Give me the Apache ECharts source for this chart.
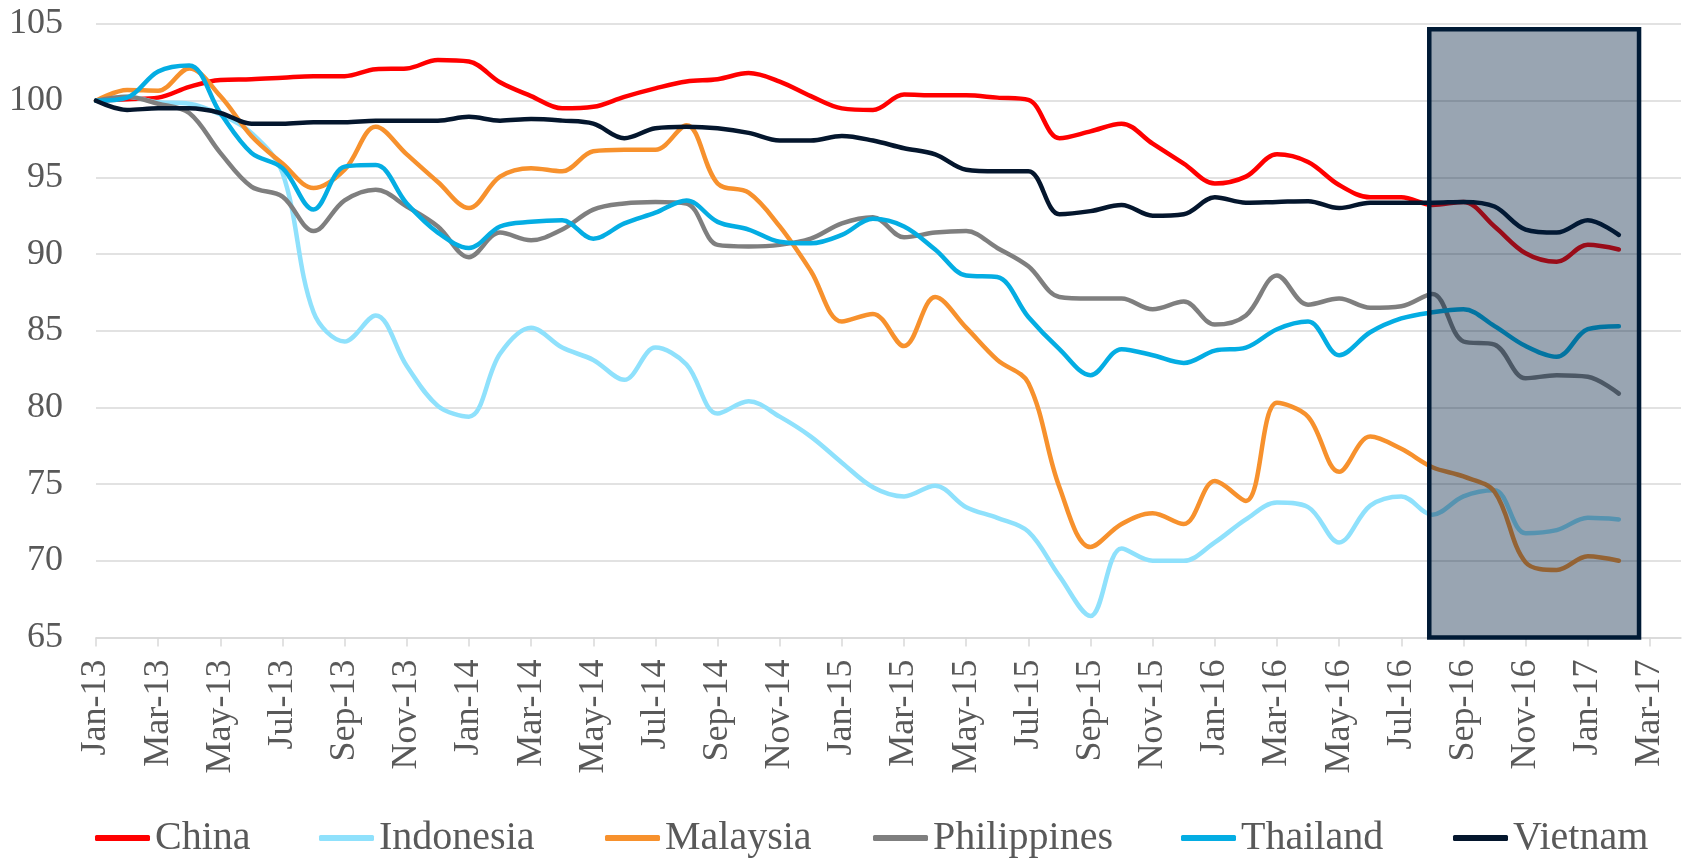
<!DOCTYPE html>
<html>
<head>
	<meta charset="UTF-8">
	<title>Exchange rate index</title>
	<script src="https://cdn.jsdelivr.net/npm/echarts@6.0.0/dist/echarts.min.js"></script>
	<style>
		html, body { margin: 0; padding: 0; background: #fff; }
		#main { width: 1684px; height: 859px; }
	</style>
</head>
<body>
	<div id="main"></div>
	<script>
		// monthly index, Jan-13 = 100, last point Feb-17
		var xTickLabels = ['Jan-13', 'Mar-13', 'May-13', 'Jul-13', 'Sep-13', 'Nov-13',
			'Jan-14', 'Mar-14', 'May-14', 'Jul-14', 'Sep-14', 'Nov-14',
			'Jan-15', 'Mar-15', 'May-15', 'Jul-15', 'Sep-15', 'Nov-15',
			'Jan-16', 'Mar-16', 'May-16', 'Jul-16', 'Sep-16', 'Nov-16',
			'Jan-17', 'Mar-17'];
		var seriesNames = ['China', 'Indonesia', 'Malaysia', 'Philippines', 'Thailand', 'Vietnam'];
		var seriesColors = ['#ff0000', '#8fe1fc', '#f7912d', '#7f7f7f', '#04ade3', '#04162d'];

		var china = [100, 100.1, 100.2, 100.9, 101.35, 101.4, 101.5, 101.6, 101.6, 102.05,
			102.1, 102.65, 102.55, 101.2, 100.3, 99.5, 99.6, 100.25, 100.8, 101.25,
			101.4, 101.8, 101.25, 100.3, 99.5, 99.4, 100.4, 100.35, 100.35, 100.2,
			100.05, 97.55, 98.0, 98.5, 97.2, 95.9, 94.6, 95.05, 96.5, 96.0,
			94.5, 93.7, 93.7, 93.2, 93.4, 91.8, 90.05, 89.5, 90.6, 90.3];
		var indonesia = [100, 100.25, 99.9, 99.8, 99.1, 97.9, 95.3, 86.2, 84.3, 86.0,
			82.7, 80.1, 79.4, 83.5, 85.2, 83.9, 83.1, 81.8, 83.9, 82.8,
			79.6, 80.4, 79.4, 78.1, 76.4, 74.8, 74.2, 74.9, 73.5, 72.8,
			71.9, 69.0, 66.4, 70.8, 70.0, 70.0, 71.2, 72.7, 73.8, 73.5,
			71.2, 73.6, 74.2, 73.0, 74.2, 74.6, 71.8, 72.0, 72.8, 72.7];
		var malaysia = [100, 100.7, 100.65, 102.1, 100.3, 97.7, 95.9, 94.3, 95.5, 98.3,
			96.5, 94.7, 93.0, 95.05, 95.6, 95.4, 96.7, 96.8, 96.8, 98.4,
			94.6, 94.0, 91.8, 88.9, 85.6, 86.1, 84.0, 87.2, 85.2, 83.1,
			81.6, 74.8, 70.9, 72.4, 73.1, 72.4, 75.2, 73.9, 80.3, 79.4,
			75.8, 78.1, 77.3, 76.1, 75.5, 74.5, 69.9, 69.4, 70.3, 70.0];
		var philippines = [100, 100.25, 99.8, 99.2, 96.6, 94.4, 93.75, 91.5, 93.5, 94.2,
			93.1, 91.8, 89.8, 91.4, 90.9, 91.6, 92.9, 93.3, 93.4, 93.3,
			90.6, 90.5, 90.6, 91.0, 92.0, 92.4, 91.1, 91.4, 91.5, 90.4,
			89.2, 87.2, 87.1, 87.1, 86.4, 86.9, 85.4, 86.0, 88.6, 86.7,
			87.1, 86.5, 86.6, 87.4, 84.3, 84.1, 81.9, 82.1, 82.0, 80.9];
		var thailand = [100, 100.2, 101.9, 102.3, 99.2, 96.6, 95.6, 92.9, 95.7, 95.8,
			93.3, 91.4, 90.4, 91.8, 92.1, 92.2, 91.0, 92.0, 92.7, 93.5,
			92.1, 91.6, 90.8, 90.7, 91.25, 92.3, 91.8, 90.3, 88.6, 88.5,
			85.9, 83.8, 82.1, 83.8, 83.4, 82.9, 83.7, 83.9, 85.1, 85.6,
			83.4, 84.9, 85.8, 86.2, 86.4, 85.3, 84.0, 83.3, 85.1, 85.3];
		var vietnam = [100, 99.4, 99.5, 99.5, 99.2, 98.5, 98.5, 98.6, 98.6, 98.7,
			98.7, 98.7, 98.95, 98.7, 98.8, 98.7, 98.5, 97.55, 98.2, 98.3,
			98.2, 97.9, 97.4, 97.4, 97.7, 97.4, 96.9, 96.5, 95.5, 95.4,
			95.4, 92.6, 92.8, 93.2, 92.5, 92.6, 93.7, 93.35, 93.4, 93.45,
			93.0, 93.35, 93.35, 93.35, 93.4, 93.1, 91.6, 91.4, 92.2, 91.25];
		// shaded box: month index from/to, index value from/to
		var highlightBox = [42.9, 49.65, 65, 104.65];

		var allValues = [china, indonesia, malaysia, philippines, thailand, vietnam];
		var tickIdx = xTickLabels.map(function (l, k) { return k * 2; });
		var fontName = '"Liberation Serif", "DejaVu Serif", serif';
		var legendLeft = [90, 314, 600, 868, 1176, 1448];

		var chart = echarts.init(document.getElementById('main'));

		var series = allValues.map(function (vals, s) {
			return {
				name: seriesNames[s],
				type: 'line',
				smooth: 0.35,
				showSymbol: false,
				symbol: 'none',
				lineStyle: { width: 4.5, color: seriesColors[s], cap: 'round' },
				itemStyle: { color: seriesColors[s] },
				data: vals.map(function (v, i) { return [i, v]; })
			};
		});
		series.push({
			type: 'custom',
			z: 10,
			silent: true,
			clip: false,
			encode: { x: [0, 1], y: [2, 3] },
			renderItem: function (params, api) {
				var p1 = api.coord([api.value(0), api.value(3)]);
				var p2 = api.coord([api.value(1), api.value(2)]);
				return {
					type: 'rect',
					shape: { x: p1[0], y: p1[1], width: p2[0] - p1[0], height: p2[1] - p1[1] },
					style: { fill: 'rgba(0,30,63,0.4)', stroke: '#001a35', lineWidth: 4.5 }
				};
			},
			data: [highlightBox]
		});

		var legends = seriesNames.map(function (n, s) {
			return {
				data: [n],
				left: legendLeft[s],
				top: 813,
				icon: 'roundRect',
				itemWidth: 55,
				itemHeight: 6,
				itemStyle: { borderWidth: 0 },
				textStyle: { fontFamily: fontName, fontSize: 40, lineHeight: 40, color: '#595959' }
			};
		});

		var option = {
			animation: false,
			backgroundColor: '#fff',
			legend: legends,
			grid: { left: 96, right: 3, top: 24, bottom: 221.5, containLabel: false, outerBoundsMode: 'none' },
			xAxis: {
				type: 'value',
				min: 0,
				max: 51,
				splitLine: { show: false },
				axisLine: { show: true, lineStyle: { color: '#d9d9d9', width: 1.5 } },
				axisTick: { show: true, length: 9, customValues: tickIdx, lineStyle: { color: '#d9d9d9', width: 1.5 } },
				axisLabel: {
					rotate: 90,
					margin: 22,
					customValues: tickIdx,
					fontFamily: fontName,
					fontSize: 36,
					color: '#595959',
					formatter: function (v) { return xTickLabels[Math.round(v / 2)] || ''; }
				}
			},
			yAxis: {
				type: 'value',
				min: 65,
				max: 105,
				interval: 5,
				axisLine: { show: false },
				axisTick: { show: false },
				splitLine: { lineStyle: { color: '#d9d9d9', width: 1.5 } },
				axisLabel: { margin: 33, fontFamily: fontName, fontSize: 36, color: '#595959' }
			},
			series: series
		};
		chart.setOption(option);
	</script>
</body>
</html>
